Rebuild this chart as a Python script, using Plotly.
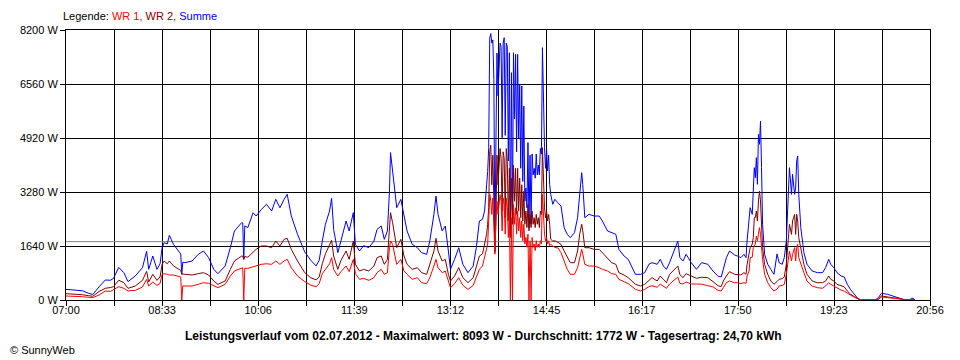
import plotly.graph_objects as go

# ---------------- data ----------------
start_clock = "07:00"

# minutes after 07:00
minutes = [
    0, 8, 16, 22, 26, 32, 38, 43, 46, 51,
    56, 60, 64, 67, 74, 78, 80, 84, 88, 91,
    93, 95, 98, 100, 104, 109, 111, 112, 113, 115,
    122, 128, 133, 138, 143, 147, 154, 159, 163, 170,
    171, 172, 173, 176, 181, 184, 189, 194, 199, 203,
    207, 211, 214, 218, 224, 231, 237, 242, 245, 248,
    251, 255, 257, 259, 263, 266, 271, 274, 278, 280,
    284, 288, 293, 298, 301, 305, 308, 311, 313, 314,
    316, 318, 320, 324, 327, 330, 335, 340, 344, 349,
    352, 356, 358, 360, 364, 367, 370, 372, 376, 380,
    384, 389, 394, 397, 400, 403, 405, 406, 407, 408,
    409, 410, 411, 412, 413, 414, 415, 416, 417, 418,
    419, 420, 421, 422, 423, 424, 425, 426, 427, 428,
    429, 430, 431, 432, 433, 434, 435, 436, 437, 438,
    439, 440, 441, 442, 443, 444, 445, 446, 447, 448,
    449, 450, 451, 452, 453, 454, 455, 456, 457, 458,
    459, 460, 461, 462, 463, 464, 465, 466, 467, 468, 469,
    471, 473, 476, 479, 482, 485, 488, 492, 495, 497,
    499, 500, 502, 506, 511, 516, 519, 524, 528, 532,
    535, 540, 544, 551, 556, 560, 564, 567, 572, 575,
    578, 581, 584, 589, 592, 594, 597, 600, 605, 610,
    615, 621, 626, 631, 634, 636, 639, 642, 647, 650,
    653, 656, 658, 659, 661, 662, 664, 665, 666, 667,
    668, 669, 670, 671, 672, 673, 674, 676, 679, 682,
    685, 688, 690, 693, 695, 697, 698, 699, 700, 702,
    703, 705, 706, 707, 708, 709, 711, 713, 714, 717,
    722, 727, 732, 735, 738, 740, 743, 746, 750, 753,
    756, 759, 763, 766, 769, 783, 786, 789, 795, 800,
    805, 809, 812, 814, 816, 818, 820, 821,
]

summe = [
    324, 310, 280, 200, 170, 400, 607, 600, 658, 990,
    830, 557, 650, 729, 982, 1480, 931, 1336, 931, 1100,
    1589, 1741, 1700, 1964, 1691, 1488, 1400, 780, 1150, 1134,
    1184, 1387, 1488, 1286, 931, 800, 1033, 1589, 2096, 2350,
    2340, 1235, 2250, 2200, 2650, 2550, 2750, 2906, 2703, 3058,
    2800, 3058, 3210, 2551, 1995, 1460, 1200, 1033, 1210, 1792,
    2298, 2703, 3088, 2146, 1437, 1792, 2399, 2096, 2652, 1691,
    1488, 1650, 1590, 1792, 2146, 2247, 1842, 2096, 3310, 4475,
    3918, 3513, 2804, 3057, 2602, 2096, 1691, 1589, 1437, 1387,
    1792, 2602, 3158, 2602, 2096, 2247, 1488, 931, 1235, 1589,
    1083, 830, 1033, 1589, 2399, 2450, 2700, 3000, 3500, 3900,
    4626, 7950, 8093, 7800, 7900, 6700, 1490, 4800, 7500, 6200,
    7100, 7800, 7700, 4930, 7800, 7966, 5000, 7800, 7700, 4221,
    7510, 2000, 6904, 2500, 7510, 5500, 7460, 4500, 7460, 4890,
    6560, 4000, 6500, 3600, 5892, 3000, 3400, 2800, 4778, 2200,
    4400, 2300, 4434, 3800, 4000, 3700, 4434, 3800, 4100, 3800,
    4600, 4430, 7663, 5500, 4626, 4000, 4600, 3918, 4400, 3510, 3210,
    2906, 3058, 2950, 2855, 2197, 1995, 1892, 2045, 2500, 3107,
    3867, 3513, 2500, 2602, 2550, 2550, 2399, 2096, 2045, 1995,
    1538, 1336, 1235, 780, 780, 830, 1084, 1134, 1084, 1235,
    1033, 932, 1134, 1538, 1792, 1286, 1184, 1387, 1134, 932,
    1134, 1084, 880, 720, 700, 931, 1286, 1488, 1367, 1330,
    1286, 1387, 1286, 1792, 2349, 2804, 2600, 3209, 4019, 3715,
    4322, 3513, 5031, 4728, 5436, 4019, 2298, 1387, 1083, 931,
    780, 1400, 1134, 1083, 1286, 1792, 2602, 3107, 4019, 3209,
    3817, 3209, 3400, 4221, 4373, 3209, 2197, 1690, 1437, 1083,
    881, 830, 830, 982, 1235, 1083, 982, 830, 729, 700,
    477, 324, 150, 51, 0, 0, 71, 203, 172, 121,
    71, 20, 0, 20, 0, 51, 51, 0,
]

wr2 = [
    192, 185, 160, 130, 115, 260, 354, 380, 405, 600,
    526, 354, 400, 425, 597, 870, 547, 780, 597, 700,
    1083, 1184, 1100, 1184, 1033, 931, 900, 780, 790, 780,
    759, 800, 830, 759, 577, 476, 577, 931, 1184, 1336,
    1330, 1235, 1320, 1300, 1437, 1540, 1640, 1640, 1589, 1792,
    1640, 1843, 1873, 1540, 1184, 830, 670, 615, 700, 1100,
    1400, 1650, 1812, 1336, 931, 1200, 1488, 1235, 1792, 1083,
    880, 930, 880, 1033, 1286, 1336, 1083, 1235, 2197, 2652,
    2349, 1893, 1589, 1842, 1336, 1083, 931, 982, 830, 780,
    1083, 1488, 1873, 1488, 1184, 1235, 780, 577, 729, 982,
    678, 526, 678, 982, 1336, 1400, 1700, 1800, 2000, 2300,
    2800, 4500, 4700, 3500, 4400, 3000, 1450, 2400, 4400, 3500,
    4000, 4600, 4300, 2700, 4500, 4300, 2500, 4600, 4200, 2400,
    4000, 1900, 3700, 2300, 4100, 3000, 4000, 2600, 4000, 2700,
    3700, 2500, 3500, 2400, 3300, 2300, 2700, 2200, 2900, 2100,
    2600, 2200, 2700, 2300, 2500, 2200, 2600, 2300, 2500, 2200,
    2700, 2600, 4626, 3500, 2800, 2500, 2700, 2400, 2600, 2300, 1843,
    1792, 1800, 1750, 1690, 1488, 1286, 1133, 1133, 1488, 1995,
    2300, 2100, 1588, 1588, 1538, 1538, 1437, 1286, 1133, 1083,
    829, 758, 678, 477, 425, 477, 597, 678, 577, 729,
    628, 526, 780, 932, 1033, 770, 678, 800, 729, 658,
    690, 678, 560, 430, 410, 577, 729, 860, 780, 780,
    759, 830, 780, 1083, 1400, 1589, 1700, 1893, 2500, 2500,
    2703, 2399, 3007, 3310, 3007, 2399, 1589, 1083, 780, 577,
    477, 560, 628, 650, 700, 1083, 1488, 1994, 2298, 1994,
    2399, 2600, 1994, 2602, 2399, 1893, 1589, 1286, 1083, 780,
    577, 526, 526, 577, 729, 628, 577, 476, 425, 400,
    273, 180, 100, 40, 0, 0, 30, 121, 91, 71,
    40, 10, 0, 0, 0, 10, 10, 0,
]

wr1 = [
    121, 115, 100, 80, 75, 150, 273, 260, 324, 405,
    354, 273, 290, 290, 395, 628, 425, 547, 445, 500,
    780, 800, 780, 759, 759, 729, 700, 0, 430, 425,
    425, 476, 526, 506, 425, 375, 476, 729, 881, 982,
    980, 0, 965, 960, 1011, 1030, 1084, 1100, 1084, 1184,
    1084, 1184, 1236, 982, 729, 560, 450, 400, 500, 800,
    930, 1100, 1286, 931, 729, 860, 1033, 861, 1235, 800,
    628, 658, 597, 678, 830, 931, 780, 830, 1589, 1792,
    1691, 1336, 1083, 1235, 881, 780, 628, 678, 526, 496,
    678, 1033, 1235, 982, 830, 881, 526, 375, 496, 678,
    445, 324, 445, 678, 931, 1033, 1300, 1400, 1500, 1700,
    2400, 3210, 3000, 2600, 3100, 2400, 1390, 2400, 3000, 2600,
    2900, 3200, 3000, 2100, 3100, 2900, 2000, 3100, 2800, 1900,
    2700, 0, 2500, 0, 2900, 2300, 2800, 2000, 2700, 2100,
    2500, 1900, 2400, 1800, 2300, 1700, 1900, 1600, 2000, 0,
    1800, 0, 1900, 1600, 1700, 1500, 1800, 1600, 1700, 1600,
    1800, 1700, 3210, 2300, 2000, 1800, 1900, 1700, 1800, 1650, 1690,
    1640, 1600, 1580, 1437, 1184, 932, 780, 780, 981, 1286,
    1538, 1400, 1084, 1032, 1032, 981, 932, 881, 800, 780,
    628, 557, 496, 324, 273, 324, 405, 435, 385, 486,
    415, 354, 486, 628, 698, 506, 486, 547, 486, 486,
    480, 435, 400, 290, 273, 375, 526, 577, 526, 526,
    496, 526, 500, 729, 881, 1286, 1300, 1589, 1650, 1700,
    1944, 1800, 1994, 2197, 1994, 1500, 1235, 780, 526, 375,
    273, 330, 425, 445, 475, 780, 1083, 1184, 1488, 1184,
    1380, 1589, 1184, 1589, 1690, 1286, 1083, 881, 829, 577,
    425, 375, 355, 425, 526, 475, 425, 355, 300, 270,
    200, 150, 80, 30, 0, 0, 20, 91, 71, 51,
    30, 10, 0, 0, 0, 10, 10, 0,
]

x_tick_labels = ["07:00", "08:33", "10:06", "11:39", "13:12",
                 "14:45", "16:17", "17:50", "19:23", "20:56"]
y_tick_values = [0, 1640, 3280, 4920, 6560, 8200]
durchschnitt = 1772
title_text = ("Leistungsverlauf vom 02.07.2012 - Maximalwert: 8093 W - "
              "Durchschnitt: 1772 W - Tagesertrag: 24,70 kWh")

# ---------------- figure ----------------
def clock_to_min(s):
    h, m = s.split(":")
    h0, m0 = start_clock.split(":")
    return (int(h) * 60 + int(m)) - (int(h0) * 60 + int(m0))

tick_pos = [clock_to_min(s) for s in x_tick_labels]
x_end = tick_pos[-1]
minor_step = x_end / 18.0

FONT = "Liberation Sans"

fig = go.Figure()
for name, vals, color in [("Summe", summe, "#0000FF"),
                          ("WR 2", wr2, "#800000"),
                          ("WR 1", wr1, "#FF0000")]:
    fig.add_trace(go.Scatter(x=minutes, y=vals, mode="lines", name=name,
                             line=dict(color=color, width=1),
                             showlegend=False, hoverinfo="skip"))

fig.add_shape(type="line", xref="x", yref="y", x0=0, x1=x_end,
              y0=durchschnitt, y1=durchschnitt,
              line=dict(color="#808080", width=1), layer="between")

tickfont = dict(family=FONT, size=11, color="black")

# The page body has an 8px margin, so the figure is 952x352 and the
# margins are reduced accordingly (plot area 870x270 at page x=60, y=30).
fig.update_layout(
    width=952, height=352,
    margin=dict(l=52, r=30, t=22, b=60),
    paper_bgcolor="white", plot_bgcolor="white",
    font=dict(family=FONT, size=11, color="black"),
    xaxis=dict(range=[0, x_end], tickmode="array", tickvals=tick_pos,
               ticktext=x_tick_labels, ticks="", showgrid=False,
               showline=True, linecolor="black", linewidth=1, mirror=True,
               zeroline=False, tickfont=tickfont,
               minor=dict(tick0=0, dtick=minor_step, ticks="outside",
                          ticklen=5, tickcolor="black", tickwidth=1,
                          showgrid=True, gridcolor="black", gridwidth=1)),
    yaxis=dict(range=[0, y_tick_values[-1]], tickmode="array",
               tickvals=y_tick_values,
               ticktext=[f"{v} W" for v in y_tick_values],
               ticks="outside", ticklen=5, tickcolor="black", tickwidth=1,
               showgrid=True, gridcolor="black", gridwidth=1,
               showline=True, linecolor="black", linewidth=1, mirror=True,
               zeroline=False, tickfont=tickfont),
    annotations=[
        dict(xref="paper", yref="paper", x=(55 - 60) / 870,
             y=(300 - 16) / 270,
             xanchor="left", yanchor="middle", showarrow=False,
             text=('<span style="color:black">Legende: </span>'
                   '<span style="color:#FF0000">WR 1, </span>'
                   '<span style="color:#800000">WR 2, </span>'
                   '<span style="color:#0000FF">Summe</span>'),
             font=dict(family=FONT, size=11)),
        dict(xref="paper", yref="paper", x=(480 - 60) / 870,
             y=(300 - 336) / 270, xanchor="center", yanchor="middle",
             showarrow=False, text="<b>" + title_text + "</b>",
             font=dict(family=FONT, size=12, color="black")),
        dict(xref="paper", yref="paper", x=(2 - 60) / 870,
             y=(300 - 350) / 270, xanchor="left", yanchor="middle",
             showarrow=False, text="© SunnyWeb",
             font=dict(family=FONT, size=11, color="black")),
    ],
)

fig.write_html("out.html")
